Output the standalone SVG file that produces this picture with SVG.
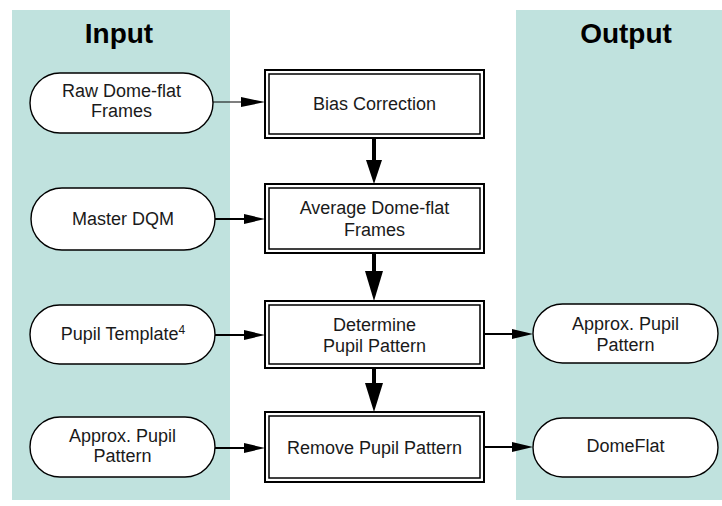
<svg xmlns="http://www.w3.org/2000/svg" width="722" height="506" viewBox="0 0 722 506">
<style>
.panel{fill:#c0e2de;stroke:none}
.title{font-family:"Liberation Sans",Arial,sans-serif;font-weight:bold;font-size:28px;fill:#000;text-anchor:middle}
.lbl{font-family:"Liberation Sans",Arial,sans-serif;font-size:18px;fill:#1a1a1a;text-anchor:middle}
.oval{fill:#fff;stroke:#000;stroke-width:1.4}
.outer{fill:#fff;stroke:#000;stroke-width:2}
.inner{fill:none;stroke:#000;stroke-width:1.5}
.thin{stroke:#000;stroke-width:1.2;fill:none}
.med{stroke:#000;stroke-width:2;fill:none}
.thick{stroke:#000;stroke-width:4;fill:none}
.head{fill:#000;stroke:none}
</style>
<rect class="panel" x="12" y="10" width="218" height="490"/>
<rect class="panel" x="516" y="10" width="206" height="490"/>
<text class="title" x="119" y="43">Input</text>
<text class="title" x="626" y="43">Output</text>

<g id="connectors">
  <line class="thin" x1="213" y1="102" x2="246" y2="102"/>
  <polygon class="head" points="265,102 241,97 241,107"/>
  <line class="med" x1="215" y1="219" x2="248" y2="219"/>
  <polygon class="head" points="265,219 244,214 244,224"/>
  <line class="med" x1="215" y1="335" x2="248" y2="335"/>
  <polygon class="head" points="265,335 244,330 244,340"/>
  <line class="med" x1="215" y1="448" x2="248" y2="448"/>
  <polygon class="head" points="265,448 244,443 244,453"/>
  <line class="med" x1="484" y1="334" x2="516" y2="334"/>
  <polygon class="head" points="533,334 512,329 512,339"/>
  <line class="med" x1="484" y1="447" x2="516" y2="447"/>
  <polygon class="head" points="533,447 512,442 512,452"/>
  <line class="thick" x1="374" y1="138" x2="374" y2="164"/>
  <polygon class="head" points="374,184 366,160 382,160"/>
  <line class="thick" x1="374" y1="253" x2="374" y2="276"/>
  <polygon class="head" points="374,301 365,271 383,271"/>
  <line class="thick" x1="374" y1="368" x2="374" y2="388"/>
  <polygon class="head" points="374,412 365,383 383,383"/>
</g>

<g id="raw-domeflat">
  <rect class="oval" x="30" y="73" width="183" height="60" rx="30"/>
  <text class="lbl" x="121.5" y="97">Raw Dome-flat</text>
  <text class="lbl" x="121.5" y="117">Frames</text>
</g>
<g id="master-dqm">
  <rect class="oval" x="31" y="188" width="184" height="62" rx="31"/>
  <text class="lbl" x="123" y="225">Master DQM</text>
</g>
<g id="pupil-template">
  <rect class="oval" x="30" y="305" width="185" height="59" rx="29.5"/>
  <text class="lbl" x="123" y="340">Pupil Template<tspan font-size="12" dy="-6">4</tspan></text>
</g>
<g id="approx-pupil-in">
  <rect class="oval" x="30" y="417" width="185" height="60" rx="30"/>
  <text class="lbl" x="122.5" y="442">Approx. Pupil</text>
  <text class="lbl" x="122.5" y="462">Pattern</text>
</g>

<g id="bias-correction">
  <rect class="outer" x="265" y="70" width="219" height="68"/>
  <rect class="inner" x="269" y="74" width="211" height="60"/>
  <text class="lbl" x="374.5" y="110">Bias Correction</text>
</g>
<g id="average-domeflat">
  <rect class="outer" x="265" y="184" width="219" height="69"/>
  <rect class="inner" x="269" y="188" width="211" height="61"/>
  <text class="lbl" x="374.5" y="214">Average Dome-flat</text>
  <text class="lbl" x="374.5" y="236">Frames</text>
</g>
<g id="determine-pupil">
  <rect class="outer" x="265" y="301" width="219" height="67"/>
  <rect class="inner" x="269" y="305" width="211" height="59"/>
  <text class="lbl" x="374.5" y="331">Determine</text>
  <text class="lbl" x="374.5" y="352">Pupil Pattern</text>
</g>
<g id="remove-pupil">
  <rect class="outer" x="265" y="412" width="219" height="70"/>
  <rect class="inner" x="269" y="416" width="211" height="62"/>
  <text class="lbl" x="374.5" y="454">Remove Pupil Pattern</text>
</g>

<g id="approx-pupil-out">
  <rect class="oval" x="533" y="304" width="185" height="59" rx="29.5"/>
  <text class="lbl" x="625.5" y="330">Approx. Pupil</text>
  <text class="lbl" x="625.5" y="351">Pattern</text>
</g>
<g id="domeflat">
  <rect class="oval" x="533" y="418" width="185" height="59" rx="29.5"/>
  <text class="lbl" x="625.5" y="452">DomeFlat</text>
</g>
</svg>
